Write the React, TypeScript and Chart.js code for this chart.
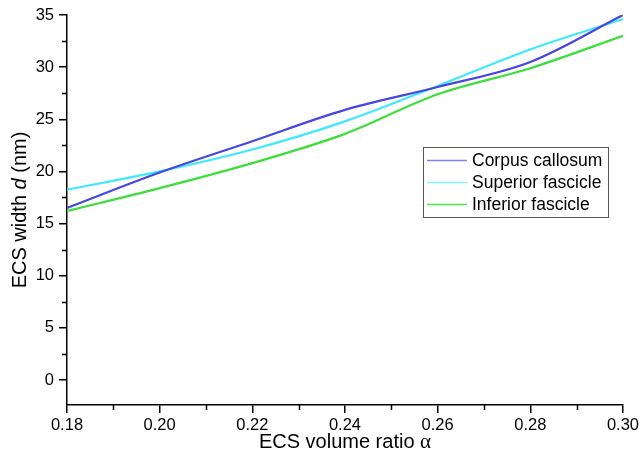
import React, { useEffect, useRef } from "react";
import { Chart, registerables } from "chart.js";

Chart.register(...registerables);

const alphaValues = [0.18, 0.2, 0.22, 0.24, 0.26, 0.28, 0.3];
const corpusCallosum = [16.5, 19.9, 22.9, 25.9, 28.1, 30.5, 35.0];
const superiorFascicle = [18.25, 20.0, 22.1, 24.8, 28.2, 31.7, 34.6];
const inferiorFascicle = [16.2, 18.4, 20.8, 23.6, 27.4, 29.9, 33.0];
const seriesNames = ["Corpus callosum", "Superior fascicle", "Inferior fascicle"];
const xTickLabels = ["0.18", "0.20", "0.22", "0.24", "0.26", "0.28", "0.30"];
const yTickValues = [0, 5, 10, 15, 20, 25, 30, 35];

const lineColors = ["#4646E0", "#3FE8FF", "#3ADF3A"];
const legendColors = ["#8080FF", "#80F4FF", "#40F040"];
const FONT = "'Liberation Sans', Arial, sans-serif";

const overlayPlugin = {
  id: "overlay",
  afterDraw(chart: any) {
    const ctx = chart.ctx;
    const xs = chart.scales.x;
    const ys = chart.scales.y;
    const area = chart.chartArea;
    ctx.save();
    ctx.strokeStyle = "#000";
    ctx.lineWidth = 1.5;
    // minor ticks
    ctx.beginPath();
    for (let i = 0; i < alphaValues.length - 1; i++) {
      const v = (alphaValues[i] + alphaValues[i + 1]) / 2;
      const px = Math.round(xs.getPixelForValue(v)) + 0.5;
      ctx.moveTo(px, area.bottom);
      ctx.lineTo(px, area.bottom + 5);
    }
    for (let i = 0; i < yTickValues.length - 1; i++) {
      const v = (yTickValues[i] + yTickValues[i + 1]) / 2;
      const py = Math.round(ys.getPixelForValue(v)) + 0.5;
      ctx.moveTo(area.left, py);
      ctx.lineTo(area.left - 5, py);
    }
    ctx.stroke();

    // x title
    ctx.fillStyle = "#000";
    ctx.textBaseline = "middle";
    ctx.textAlign = "left";
    const xt1 = "ECS volume ratio ";
    const xt2 = "α";
    ctx.font = `20px ${FONT}`;
    const w1 = ctx.measureText(xt1).width;
    ctx.font = `21px 'Liberation Serif', serif`;
    const w2 = ctx.measureText(xt2).width;
    const cx = (area.left + area.right) / 2;
    const sx = cx - (w1 + w2) / 2;
    ctx.font = `20px ${FONT}`;
    ctx.fillText(xt1, sx, 442);
    ctx.font = `21px 'Liberation Serif', serif`;
    ctx.fillText(xt2, sx + w1, 442);

    // y title with italic d
    ctx.save();
    ctx.translate(20, (area.top + area.bottom) / 2);
    ctx.rotate(-Math.PI / 2);
    const parts: [string, string][] = [
      ["ECS width ", `20px ${FONT}`],
      ["d", `italic 20px ${FONT}`],
      [" (nm)", `20px ${FONT}`],
    ];
    let total = 0;
    for (const [t, f] of parts) {
      ctx.font = f;
      total += ctx.measureText(t).width;
    }
    let px = -total / 2;
    for (const [t, f] of parts) {
      ctx.font = f;
      ctx.fillText(t, px, 0);
      px += ctx.measureText(t).width;
    }
    ctx.restore();

    // legend
    const lx = 423, ly = 147, lw = 185, lh = 70;
    ctx.fillStyle = "#fff";
    ctx.fillRect(lx, ly, lw, lh);
    ctx.strokeStyle = "#555";
    ctx.lineWidth = 1;
    ctx.strokeRect(lx + 0.5, ly + 0.5, lw, lh);
    ctx.font = `17.5px ${FONT}`;
    ctx.textBaseline = "middle";
    for (let i = 0; i < seriesNames.length; i++) {
      const yy = ly + 13 + i * 22;
      ctx.strokeStyle = legendColors[i];
      ctx.lineWidth = 1.5;
      ctx.beginPath();
      ctx.moveTo(lx + 4, yy + 0.5);
      ctx.lineTo(lx + 44, yy + 0.5);
      ctx.stroke();
      ctx.fillStyle = "#000";
      ctx.fillText(seriesNames[i], lx + 49, yy + 1);
    }
    ctx.restore();
  },
};

export default function App() {
  const ref = useRef<HTMLCanvasElement | null>(null);
  useEffect(() => {
    document.body.style.margin = "0";
    const canvas = ref.current!;
    const seriesData = [corpusCallosum, superiorFascicle, inferiorFascicle];
    const chart = new Chart(canvas, {
      type: "line",
      data: {
        datasets: seriesData.map((vals, i) => ({
          label: seriesNames[i],
          data: alphaValues.map((a, j) => ({ x: a, y: vals[j] })),
          borderColor: lineColors[i],
          borderWidth: 2.2,
          pointRadius: 0,
          fill: false,
          cubicInterpolationMode: "monotone" as const,
        })),
      },
      options: {
        animation: false,
        responsive: false,
        layout: { padding: { top: 15, right: 16, left: 0, bottom: 0 } },
        plugins: {
          legend: { display: false },
          tooltip: { enabled: false },
        },
        scales: {
          x: {
            type: "linear",
            min: 0.18,
            max: 0.3,
            afterBuildTicks: (s: any) => {
              s.ticks = alphaValues.map((v) => ({ value: v }));
            },
            afterFit: (s: any) => {
              s.height = 56;
            },
            ticks: {
              color: "#000",
              font: { family: FONT, size: 16.5 },
              padding: 3,
              maxRotation: 0,
              callback: (_v: any, i: number) => xTickLabels[i],
            },
            grid: {
              drawOnChartArea: false,
              drawTicks: true,
              tickLength: 8,
              color: "#000",
              lineWidth: 1.5,
            },
            border: { display: true, color: "#000", width: 1.5 },
          },
          y: {
            type: "linear",
            min: -2.4,
            max: 35,
            afterBuildTicks: (s: any) => {
              s.ticks = yTickValues.map((v) => ({ value: v }));
            },
            afterFit: (s: any) => {
              s.width = 67;
            },
            ticks: {
              color: "#000",
              font: { family: FONT, size: 16.5 },
              padding: 5,
              callback: (v: any) => String(v),
            },
            grid: {
              drawOnChartArea: false,
              drawTicks: true,
              tickLength: 8,
              color: "#000",
              lineWidth: 1.5,
            },
            border: { display: true, color: "#000", width: 1.5 },
          },
        },
      },
      plugins: [overlayPlugin],
    });
    return () => chart.destroy();
  }, []);
  return (
    <div style={{ width: 642, height: 461, background: "#fff" }}>
      <canvas ref={ref} width={642} height={461} style={{ display: "block" }} />
    </div>
  );
}
